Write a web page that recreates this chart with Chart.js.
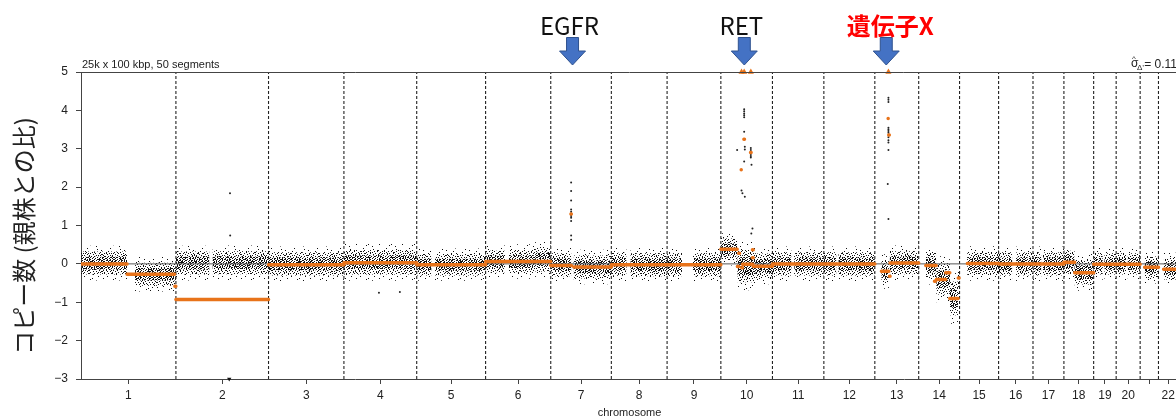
<!DOCTYPE html>
<html>
<head>
<meta charset="utf-8">
<title>Copy number profile</title>
<script src="https://cdn.jsdelivr.net/npm/chart.js@4.4.1/dist/chart.umd.min.js"></script>
<style>
  html, body { margin: 0; padding: 0; background: #fff; overflow: hidden; }
  #wrap { width: 1200px; height: 417px; }
</style>
</head>
<body>
<div id="wrap"><canvas id="cn" width="1200" height="417"></canvas></div>
<script>
// chromosome lengths in Mb (hg19), x axis is the concatenated genome
const chrLengths = [249.25, 243.2, 198.0, 191.15, 180.9, 171.1, 159.1, 146.4, 141.2, 135.5, 135.0,
                    133.85, 115.2, 107.3, 102.5, 90.35, 81.2, 78.1, 59.1, 63.0, 48.1, 51.3];
const xTickLabels = ['1','2','3','4','5','6','7','8','9','10','11','12','13','14','15','16','17','18','19','20','','22'];
const yTickValues = [-3, -2, -1, 0, 1, 2, 3, 4, 5];
const yTickLabels = ['\u22123','\u22122','\u22121','0','1','2','3','4','5'];

// segment means: [chromosome, from Mb, to Mb, log ratio]
const segments = [
  [1, 0, 120.8, 0.0], [1, 121, 245.5, -0.27], [1, 246.5, 249, -0.58],
  [2, 0, 243.2, -0.93],
  [3, 0, 198, -0.02],
  [4, 0, 191.15, 0.03],
  [5, 0, 180.9, -0.02],
  [6, 0, 171.1, 0.06],
  [7, 0, 54, -0.04], [7, 53, 54, 1.30], [7, 60.5, 159.1, -0.08],
  [8, 0, 146.4, -0.02],
  [9, 0, 141.2, -0.02],
  [10, 0, 42.8, 0.38], [10, 43.5, 47, -0.07], [10, 47, 49, 0.28], [10, 53.5, 55, 2.45],
  [10, 55, 57, -0.10], [10, 57, 84, -0.01], [10, 60.5, 62, 3.25], [10, 78, 79.5, 2.90],
  [10, 83, 85, 0.37], [10, 83, 85, 0.16], [10, 85, 135.5, -0.06],
  [11, 0, 135, 0.0],
  [12, 0, 133.85, 0.0],
  [13, 17.3, 37, -0.19], [13, 35, 36.5, 3.79], [13, 36.5, 38, 3.36], [13, 38.5, 40, -0.32], [13, 40, 115.2, 0.02],
  [14, 18.6, 46, -0.04], [14, 41.5, 43.5, -0.45], [14, 46.7, 71, -0.41], [14, 71, 81.6, -0.23],
  [14, 81.6, 103.4, -0.90], [14, 104, 106, -0.37],
  [15, 20.5, 102.5, 0.01],
  [16, 0, 90.35, 0.0],
  [17, 0, 81.2, 0.0],
  [18, 0, 28.3, 0.04], [18, 28.3, 78.1, -0.23],
  [19, 0, 59.1, -0.01],
  [20, 0, 63, -0.01],
  [21, 11.8, 48.1, -0.09],
  [22, 13.6, 51.3, -0.14]
];

// bin clouds: [chromosome, from Mb, to Mb, centre, spread]
const noiseRegions = [
  [1, 0, 121, 0.02, 0.15], [1, 142, 249.25, -0.27, 0.15],
  [2, 0, 88, 0.02, 0.15], [2, 96, 243.2, 0.03, 0.15],
  [3, 0, 198, 0.0, 0.15],
  [4, 0, 191.15, 0.04, 0.16],
  [5, 0, 39, -0.02, 0.14], [5, 48, 180.9, -0.02, 0.14],
  [6, 0, 51, 0.06, 0.14], [6, 61, 130, 0.06, 0.15], [6, 130, 171.1, 0.12, 0.16],
  [7, 0, 54, -0.02, 0.15], [7, 60, 159.1, -0.08, 0.15],
  [8, 0, 40, -0.01, 0.15], [8, 50, 146.4, -0.02, 0.15],
  [9, 0, 39, -0.02, 0.15], [9, 68, 141.2, -0.02, 0.15],
  [10, 0, 42.8, 0.38, 0.14], [10, 43.5, 90, -0.06, 0.21], [10, 90, 135.5, -0.05, 0.16],
  [11, 0, 50, 0.0, 0.15], [11, 57, 135, 0.0, 0.15],
  [12, 0, 33, 0.0, 0.15], [12, 38, 133.85, 0.0, 0.15],
  [13, 17, 37, -0.2, 0.15], [13, 39, 115.2, 0.03, 0.15],
  [14, 19, 46, -0.03, 0.17], [14, 46, 82, -0.4, 0.2], [14, 82, 103, -0.9, 0.22], [14, 103, 107.3, -0.35, 0.15],
  [15, 20, 102.5, 0.01, 0.15],
  [16, 0, 36, 0.0, 0.15], [16, 46, 90.35, 0.0, 0.15],
  [17, 0, 22, 0.0, 0.15], [17, 26, 81.2, 0.0, 0.15],
  [18, 0, 28, 0.04, 0.15], [18, 28, 78.1, -0.22, 0.16],
  [19, 0, 24, 0.0, 0.14], [19, 28, 59.1, 0.0, 0.14],
  [20, 0, 26, 0.0, 0.14], [20, 30, 63, 0.0, 0.14],
  [21, 12, 48.1, -0.09, 0.14],
  [22, 14, 51.3, -0.13, 0.14]
];

// single bins away from the cloud: [chromosome, Mb, log ratio]
const outliers = [
  [2, 142, 1.84], [2, 142.5, 0.74], [4, 92, -0.75], [4, 147, -0.73],
  [7, 53.5, 2.12], [7, 53.5, 1.9], [7, 53.5, 1.65], [7, 53.5, 1.42], [7, 53.5, 1.36], [7, 53.5, 1.25],
  [7, 53.5, 1.2], [7, 53.5, 1.12], [7, 53.5, 0.74], [7, 53.5, 0.63],
  [10, 61.2, 4.03], [10, 61.2, 3.98], [10, 61.2, 3.92], [10, 61.2, 3.87], [10, 61.2, 3.82], [10, 61.2, 3.44],
  [10, 61.2, 2.67], [10, 63, 3.05], [10, 63, 2.98], [10, 63, 1.75], [10, 42.8, 2.97],
  [10, 78.7, 3.02], [10, 78.7, 2.97], [10, 78.7, 2.86], [10, 78.7, 2.81], [10, 78.7, 2.77], [10, 80.5, 2.58],
  [10, 54.3, 1.91], [10, 56.7, 1.84], [10, 83, 0.92], [10, 80, 0.79],
  [13, 35.7, 4.33], [13, 35.7, 4.28], [13, 35.7, 4.22], [13, 35.7, 3.55], [13, 35.7, 3.5], [13, 35.7, 3.46],
  [13, 35.7, 3.42], [13, 35.7, 3.3], [13, 35.7, 3.22], [13, 35.7, 3.16], [13, 35.7, 2.97], [13, 35.7, 1.17],
  [13, 33.9, 2.08]
];
// segments above the top of the axis, and bins below its bottom: [chromosome, Mb]
const offScaleHigh = [[10, 54.3], [10, 61.2], [10, 78.7], [13, 35.7]];
const offScaleLow = [[2, 140]];

// genes marked above the plot
const geneNames = ['EGFR', 'RET', '\u907A\u4F1D\u5B50X'];
const geneChr = [7, 10, 13];
const genePos = [57.2, 61.6, 30.0];

const chrStart = [];
chrLengths.reduce((acc, len, i) => { chrStart[i] = acc; return acc + len; }, 0);
const genomeLength = chrLengths.reduce((a, b) => a + b, 0);
const gx = (chr, mb) => chrStart[chr - 1] + mb;

const ORANGE = '#e8731a';
const SANS = '"Liberation Sans", Arial, Helvetica, sans-serif';
const CJK = '"Noto Sans CJK JP", "Noto Sans", sans-serif';

// dot textures used to shade the bin clouds (style only)
function dotPattern(w, h, dots) {
  const c = document.createElement('canvas');
  c.width = w; c.height = h;
  const g = c.getContext('2d');
  g.fillStyle = '#111';
  dots.forEach(([x, y]) => g.fillRect(x, y, 1, 1));
  return g.createPattern(c, 'repeat');
}
const cloudLayers = [
  { k: 3.0, fill: dotPattern(23, 17, [[1,2],[8,0],[15,4],[20,1],[4,8],[11,6],[18,10],[2,14],[9,12],[14,15],
                                      [21,7],[6,4],[16,13],[12,1],[19,15],[5,11],[0,6],[10,16]]) },
  { k: 2.0, fill: dotPattern(14, 11, [[1,0],[6,0],[11,0],[3,1],[9,1],[0,2],[5,2],[12,2],[7,3],[10,3],
                                      [2,4],[4,4],[13,4],[8,5],[11,5],[1,6],[5,6],[3,7],[9,7],[12,7],
                                      [0,8],[6,8],[4,9],[10,9],[13,9],[2,10],[8,10]]) },
  { k: 1.1, fill: dotPattern(10, 7, [[0,0],[4,0],[7,0],[2,1],[6,1],[9,1],[1,2],[4,2],[8,2],[0,3],
                                     [3,3],[6,3],[9,3],[1,4],[5,4],[8,4],[0,5],[3,5],[7,5],[2,6],
                                     [5,6],[9,6]]) }
];

const datasets = [];

noiseRegions.forEach(([chr, from, to, mid, s]) => {
  cloudLayers.forEach(layer => {
    datasets.push({
      data: [{ x: gx(chr, from), y: mid + layer.k * s }, { x: gx(chr, to), y: mid + layer.k * s }],
      fill: { value: mid - layer.k * s },
      backgroundColor: layer.fill,
      borderWidth: 0,
      order: 6
    });
  });
});

// chromosome boundaries
const boundaryPts = [];
chrStart.slice(1).forEach(b => {
  boundaryPts.push({ x: b, y: -3 }, { x: b, y: 5 }, { x: b, y: null });
});
datasets.push({ data: boundaryPts, borderColor: '#222', borderWidth: 1.1, borderDash: [3, 2], order: 5 });

datasets.push({ data: [{ x: 0, y: 0 }, { x: genomeLength, y: 0 }], borderColor: '#555', borderWidth: 1, order: 4 });

datasets.push({
  data: outliers.map(([chr, mb, v]) => ({ x: gx(chr, mb), y: v })),
  showLine: false, pointRadius: 1, pointBackgroundColor: '#222', pointBorderWidth: 0, order: 3
});

const segPts = [];
segments.forEach(([chr, from, to, m]) => {
  segPts.push({ x: gx(chr, from), y: m }, { x: gx(chr, to), y: m }, { x: gx(chr, to), y: null });
});
datasets.push({ data: segPts, borderColor: ORANGE, borderWidth: 3.5, borderCapStyle: 'round', borderDash: [], order: 1 });

datasets.push({
  data: offScaleHigh.map(([chr, mb]) => ({ x: gx(chr, mb), y: 5 })),
  showLine: false, pointStyle: 'triangle', pointRadius: 3.5,
  pointBackgroundColor: ORANGE, pointBorderColor: ORANGE, pointBorderWidth: 0, clip: false, order: 0
});
datasets.push({
  data: offScaleLow.map(([chr, mb]) => ({ x: gx(chr, mb), y: -3 })),
  showLine: false, pointStyle: 'triangle', pointRotation: 180, pointRadius: 2.5,
  pointBackgroundColor: '#111', pointBorderColor: '#111', pointBorderWidth: 0, clip: false, order: 0
});

const decorations = {
  id: 'decorations',
  afterDraw(chart) {
    const { ctx, chartArea: a, scales: { x } } = chart;
    ctx.save();
    // top frame line
    ctx.strokeStyle = '#444';
    ctx.lineWidth = 1;
    ctx.beginPath();
    ctx.moveTo(a.left, a.top + 0.5);
    ctx.lineTo(a.right, a.top + 0.5);
    ctx.stroke();

    ctx.fillStyle = '#222';
    ctx.font = '11px ' + SANS;
    ctx.textBaseline = 'alphabetic';
    ctx.textAlign = 'left';
    ctx.fillText('25k x 100 kbp, 50 segments', a.left + 1, a.top - 4.5);

    // sigma estimate, top right
    ctx.font = '12px ' + SANS;
    ctx.textAlign = 'right';
    ctx.fillText('= 0.11', a.right - 1, a.top - 4.5);
    ctx.textAlign = 'left';
    ctx.fillText('\u03C3', a.right - 47, a.top - 5.5);
    ctx.font = '8px ' + SANS;
    ctx.fillText('^', a.right - 46, a.top - 11);
    ctx.fillText('\u0394\u2019', a.right - 41, a.top - 2);

    // axis titles
    ctx.font = '11px ' + SANS;
    ctx.textAlign = 'center';
    ctx.fillText('chromosome', (a.left + a.right) / 2, 416);

    ctx.save();
    ctx.translate(24, 236);
    ctx.rotate(-Math.PI / 2);
    ctx.font = '24px ' + CJK;
    ctx.textBaseline = 'middle';
    ctx.fillText('\u30B3\u30D4\u30FC\u6570 (\u89AA\u682A\u3068\u306E\u6BD4)', 0, 0);
    ctx.restore();

    // gene arrows
    const nudge = [-3, -3, 4];
    const labelColor = ['#111', '#111', '#ff0000'];
    const labelWeight = ['400', '400', '700'];
    geneNames.forEach((name, i) => {
      const px = x.getPixelForValue(gx(geneChr[i], genePos[i]));
      const top = a.top - 34.5, neck = a.top - 21, tip = a.top - 7;
      ctx.beginPath();
      ctx.moveTo(px - 6, top);
      ctx.lineTo(px + 6, top);
      ctx.lineTo(px + 6, neck);
      ctx.lineTo(px + 13, neck);
      ctx.lineTo(px, tip);
      ctx.lineTo(px - 13, neck);
      ctx.lineTo(px - 6, neck);
      ctx.closePath();
      ctx.fillStyle = '#4472c4';
      ctx.fill();
      ctx.strokeStyle = '#2f528f';
      ctx.lineWidth = 1;
      ctx.stroke();

      ctx.fillStyle = labelColor[i];
      ctx.font = labelWeight[i] + ' 24px ' + CJK;
      ctx.textAlign = 'center';
      ctx.textBaseline = 'alphabetic';
      ctx.fillText(name, px + nudge[i], a.top - 37.5);
    });
    ctx.restore();
  }
};

new Chart(document.getElementById('cn'), {
  type: 'line',
  data: { datasets },
  plugins: [decorations],
  options: {
    responsive: false,
    devicePixelRatio: 1,
    animation: false,
    events: [],
    spanGaps: false,
    layout: { padding: { left: 0, right: 22, top: 72, bottom: 0 } },
    elements: {
      point: { radius: 0 },
      line: { tension: 0 }
    },
    plugins: { legend: { display: false }, tooltip: { enabled: false } },
    scales: {
      x: {
        type: 'linear',
        min: 0,
        max: genomeLength,
        afterBuildTicks: s => { s.ticks = chrStart.map((v, i) => ({ value: v + chrLengths[i] / 2 })); },
        afterFit: s => { s.height = 38; },
        ticks: {
          autoSkip: false, maxRotation: 0, padding: 4, color: '#222',
          font: { size: 12, family: SANS },
          callback: (v, i) => xTickLabels[i]
        },
        grid: { drawOnChartArea: false, drawTicks: true, tickLength: 5, tickColor: '#444' },
        border: { color: '#444', width: 1 }
      },
      y: {
        type: 'linear',
        min: -3,
        max: 5,
        afterBuildTicks: s => { s.ticks = yTickValues.map(v => ({ value: v })); },
        afterFit: s => { s.width = 81; },
        ticks: {
          padding: 8, color: '#222',
          font: { size: 12, family: SANS },
          callback: (v, i) => yTickLabels[i]
        },
        grid: { drawOnChartArea: false, drawTicks: true, tickLength: 5, tickColor: '#444' },
        border: { color: '#444', width: 1 }
      }
    }
  }
});
</script>
</body>
</html>
